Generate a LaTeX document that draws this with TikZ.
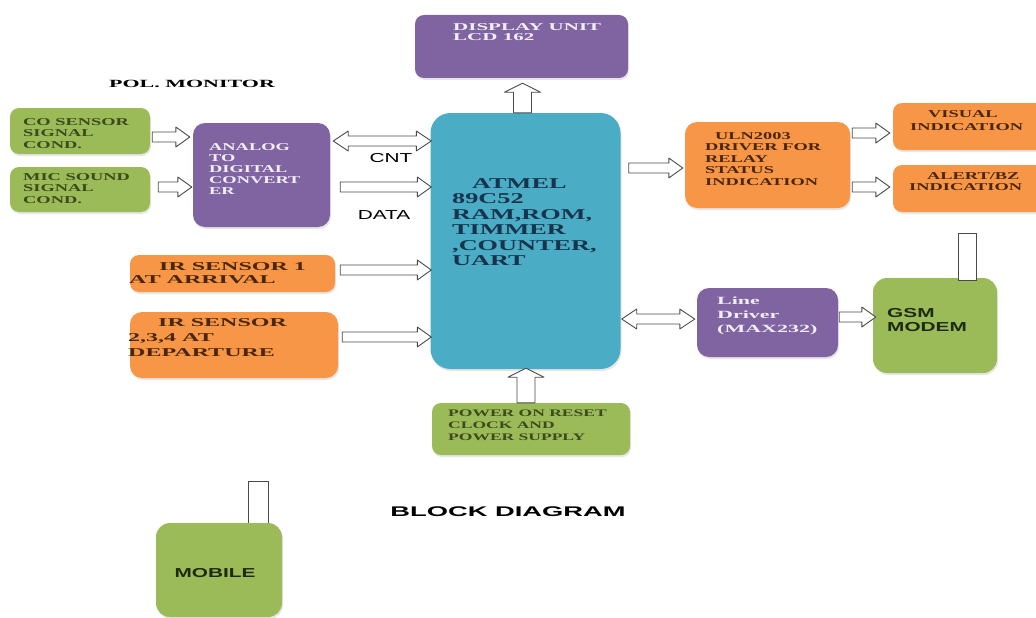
\documentclass[tikz,border=0pt]{standalone}
\usepackage{fontspec}
\setmainfont{Liberation Serif}[FakeStretch=1.75]
\setsansfont{Liberation Sans}[FakeStretch=1.6]
\newfontfamily\wideserif{Liberation Serif}[FakeStretch=2.0]
\newfontfamily\widesans{Liberation Sans}[FakeStretch=1.95]
\usetikzlibrary{calc,shadows}
\definecolor{cgreen}{HTML}{9BBB59}
\definecolor{corange}{HTML}{F79646}
\definecolor{cpurple}{HTML}{8064A2}
\definecolor{cblue}{HTML}{4BACC6}
\definecolor{tgreen}{HTML}{3C4A1C}
\definecolor{torange}{HTML}{4A2608}
\definecolor{tpurple}{HTML}{F2EEF8}
\definecolor{tblue}{HTML}{17344C}
\definecolor{tdark}{HTML}{1E2A10}
\definecolor{arrowc}{HTML}{4A4A4A}
\tikzset{
  box/.style={rounded corners=9pt, draw=none, inner sep=0pt,
    drop shadow={shadow xshift=1pt, shadow yshift=-2pt, opacity=0.2}},
  tx/.style={inner sep=0pt, anchor=north west, align=left},
  antenna/.style={draw=arrowc, fill=white, line width=0.9pt, inner sep=0pt},
  arrbase/.style={draw=arrowc, fill=white, line width=0.9pt, line join=round},
  single/.style={arrbase,
    to path={let \p1=(\tikztostart), \p2=(\tikztotarget),
      \n1={atan2(\y2-\y1,\x2-\x1)}, \n2={veclen(\x2-\x1,\y2-\y1)}, \n3={\n2-\arhl pt} in
      ($(\p1)+(\n1+90:\arsw pt)$) -- ($(\p1)+(\n1:\n3)+(\n1+90:\arsw pt)$)
      -- ($(\p1)+(\n1:\n3)+(\n1+90:\arhw pt)$) -- (\p2)
      -- ($(\p1)+(\n1:\n3)+(\n1-90:\arhw pt)$) -- ($(\p1)+(\n1:\n3)+(\n1-90:\arsw pt)$)
      -- ($(\p1)+(\n1-90:\arsw pt)$) -- cycle}},
  twohead/.style={arrbase,
    to path={let \p1=(\tikztostart), \p2=(\tikztotarget),
      \n1={atan2(\y2-\y1,\x2-\x1)}, \n2={veclen(\x2-\x1,\y2-\y1)}, \n3={\n2-\arhl pt} in
      (\p1) -- ($(\p1)+(\n1:\arhl pt)+(\n1+90:\arhw pt)$) -- ($(\p1)+(\n1:\arhl pt)+(\n1+90:\arsw pt)$)
      -- ($(\p1)+(\n1:\n3)+(\n1+90:\arsw pt)$) -- ($(\p1)+(\n1:\n3)+(\n1+90:\arhw pt)$) -- (\p2)
      -- ($(\p1)+(\n1:\n3)+(\n1-90:\arhw pt)$) -- ($(\p1)+(\n1:\n3)+(\n1-90:\arsw pt)$)
      -- ($(\p1)+(\n1:\arhl pt)+(\n1-90:\arsw pt)$) -- ($(\p1)+(\n1:\arhl pt)+(\n1-90:\arhw pt)$) -- cycle}},
  harr/.style={single, /utils/exec={\def\arsw{5}\def\arhw{10}\def\arhl{14}}},
  dharr/.style={twohead, /utils/exec={\def\arsw{5}\def\arhw{10}\def\arhl{15}}},
  varr/.style={single, /utils/exec={\def\arsw{9}\def\arhw{18}\def\arhl{9}}},
}
\begin{document}
\begin{tikzpicture}[x=1pt,y=-1pt]
\useasboundingbox (0,0) rectangle (1036,618);
\clip (0,0) rectangle (1036,618);

% boxes
\node[box, fill=cpurple, minimum width=213pt, minimum height=63pt] (disp) at (521.5,46.5) {};
\node[box, fill=cblue, rounded corners=20pt, minimum width=190pt, minimum height=256pt] (mcu) at (525.5,241) {};
\node[box, fill=cgreen, minimum width=140pt, minimum height=46pt] (co) at (80,131) {};
\node[box, fill=cgreen, minimum width=140pt, minimum height=45pt] (mic) at (80,189.5) {};
\node[box, fill=cpurple, rounded corners=12pt, minimum width=137pt, minimum height=104pt] (adc) at (261.5,175) {};
\node[box, fill=corange, minimum width=205pt, minimum height=37pt] (ir1) at (232.5,273.5) {};
\node[box, fill=corange, rounded corners=12pt, minimum width=208pt, minimum height=66pt] (ir2) at (234,345) {};
\node[box, fill=corange, rounded corners=12pt, minimum width=165pt, minimum height=86pt] (uln) at (767.5,165) {};
\node[box, fill=corange, minimum width=152pt, minimum height=47pt] (vis) at (969,126.5) {};
\node[box, fill=corange, minimum width=152pt, minimum height=47pt] (alert) at (969,188.5) {};
\node[box, fill=cpurple, rounded corners=12pt, minimum width=141pt, minimum height=69pt] (line) at (767.5,322.5) {};
\node[box, fill=cgreen, rounded corners=14pt, minimum width=124pt, minimum height=95pt] (gsm) at (935,325.5) {};
\node[antenna, minimum width=18pt, minimum height=47pt] (ant1) at (967,256.5) {};
\node[box, fill=cgreen, minimum width=198pt, minimum height=52pt] (pwr) at (531,429) {};
\node[antenna, minimum width=20pt, minimum height=42pt] (ant2) at (258,502) {};
\node[box, fill=cgreen, rounded corners=14pt, minimum width=126pt, minimum height=94pt] (mobile) at (219,570) {};

% texts
\node[tx, text=tpurple, font={\wideserif\bfseries\fontsize{10.5}{10.5}\selectfont}] (dispt) at (453,23) {DISPLAY UNIT\\LCD 162};
\node[tx, text=tblue, font={\bfseries\fontsize{15}{15.5}\selectfont}] (mcut) at (452,178) {\hspace*{20pt}ATMEL\\89C52\\RAM,ROM,\\TIMMER\\,COUNTER,\\UART};
\node[anchor=center, inner sep=0pt, font={\wideserif\bfseries\fontsize{11}{11}\selectfont}] (pol) at (192,84) {POL. MONITOR};
\node[tx, text=tgreen, font={\bfseries\fontsize{10.5}{11.5}\selectfont}] (cot) at (23,118) {CO SENSOR\\SIGNAL\\COND.};
\node[tx, text=tgreen, font={\bfseries\fontsize{10.5}{11.5}\selectfont}] (mict) at (23,173) {MIC SOUND\\SIGNAL\\COND.};
\node[tx, text=tpurple, font={\bfseries\fontsize{10.5}{11}\selectfont}] (adct) at (209,143) {ANALOG\\TO\\DIGITAL\\CONVERT\\ER};
\node[font={\sffamily\fontsize{13}{13}\selectfont}, inner sep=0pt] (cnt) at (391,158) {CNT};
\node[font={\sffamily\fontsize{13}{13}\selectfont}, inner sep=0pt] (data) at (384,215) {DATA};
\node[tx, text=torange, font={\wideserif\bfseries\fontsize{12}{13}\selectfont}] (ir1t) at (129,262) {\hspace*{30pt}IR SENSOR 1\\AT ARRIVAL};
\node[tx, text=torange, font={\wideserif\bfseries\fontsize{12}{15}\selectfont}] (ir2t) at (128,318) {\hspace*{30pt}IR SENSOR\\2,3,4 AT\\DEPARTURE};
\node[tx, text=torange, font={\bfseries\fontsize{10.5}{11.5}\selectfont}] (ulnt) at (705,132) {\hspace*{10pt}ULN2003\\DRIVER FOR\\RELAY\\STATUS\\INDICATION};
\node[tx, text=torange, font={\bfseries\fontsize{10.5}{13}\selectfont}] (vist) at (910,110) {\hspace*{18pt}VISUAL\\INDICATION};
\node[tx, text=torange, font={\bfseries\fontsize{10.5}{11.5}\selectfont}] (alertt) at (909,172) {\hspace*{18pt}ALERT/BZ\\INDICATION};
\node[tx, text=tpurple, font={\wideserif\bfseries\fontsize{11}{14}\selectfont}] (linet) at (717,297) {Line\\Driver\\(MAX232)};
\node[tx, text=tdark, font={\sffamily\bfseries\fontsize{13}{14}\selectfont}] (gsmt) at (887,308) {GSM\\MODEM};
\node[tx, text=tgreen, font={\bfseries\fontsize{10}{12}\selectfont}] (pwrt) at (448,410) {POWER ON RESET\\CLOCK AND\\POWER SUPPLY};
\node[text=tdark, inner sep=0pt, font={\sffamily\bfseries\fontsize{13}{13}\selectfont}] (mobt) at (215,573) {MOBILE};
\node[inner sep=0pt, font={\widesans\bfseries\fontsize{14}{14}\selectfont}] (bd) at (508,512) {BLOCK DIAGRAM};

% arrows
\draw[harr] ($(co.east)+(2,6)$) to ($(co.east -| adc.west)+(-3,6)$);
\draw[harr] ($(mic.east)+(8,-2.5)$) to ($(mic.east -| adc.west)+(-1,-2.5)$);
\draw[dharr] ($(adc.east)+(3,-34)$) to ($(adc.east -| mcu.west)+(1,-34)$);
\draw[harr] ($(adc.east)+(10,12)$) to ($(adc.east -| mcu.west)+(1,12)$);
\draw[harr] ($(ir1.east)+(5,-3.5)$) to ($(ir1.east -| mcu.west)+(1,-3.5)$);
\draw[harr] ($(ir2.east)+(4,-8)$) to ($(ir2.east -| mcu.west)+(1,-8)$);
\draw[harr] ($(uln.west -| mcu.east)+(8,3)$) to ($(uln.west)+(-2,3)$);
\draw[harr] ($(vis.west -| uln.east)+(2,6.5)$) to ($(vis.west)+(-3,6.5)$);
\draw[harr] ($(alert.west -| uln.east)+(2,-1.5)$) to ($(alert.west)+(-3,-1.5)$);
\draw[dharr] ($(line.west -| mcu.east)+(1,-3.5)$) to ($(line.west)+(-2,-3.5)$);
\draw[harr] ($(line.east)+(1,-5.5)$) to ($(line.east -| gsm.west)+(3,-5.5)$);
\draw[varr] ($(mcu.south |- pwr.north)+(0.5,0)$) to ($(mcu.south)+(0.5,-1)$);
\draw[varr] ($(mcu.north)+(-3,0)$) to ($(mcu.north |- disp.south)+(-3,5)$);
\end{tikzpicture}
\end{document}
